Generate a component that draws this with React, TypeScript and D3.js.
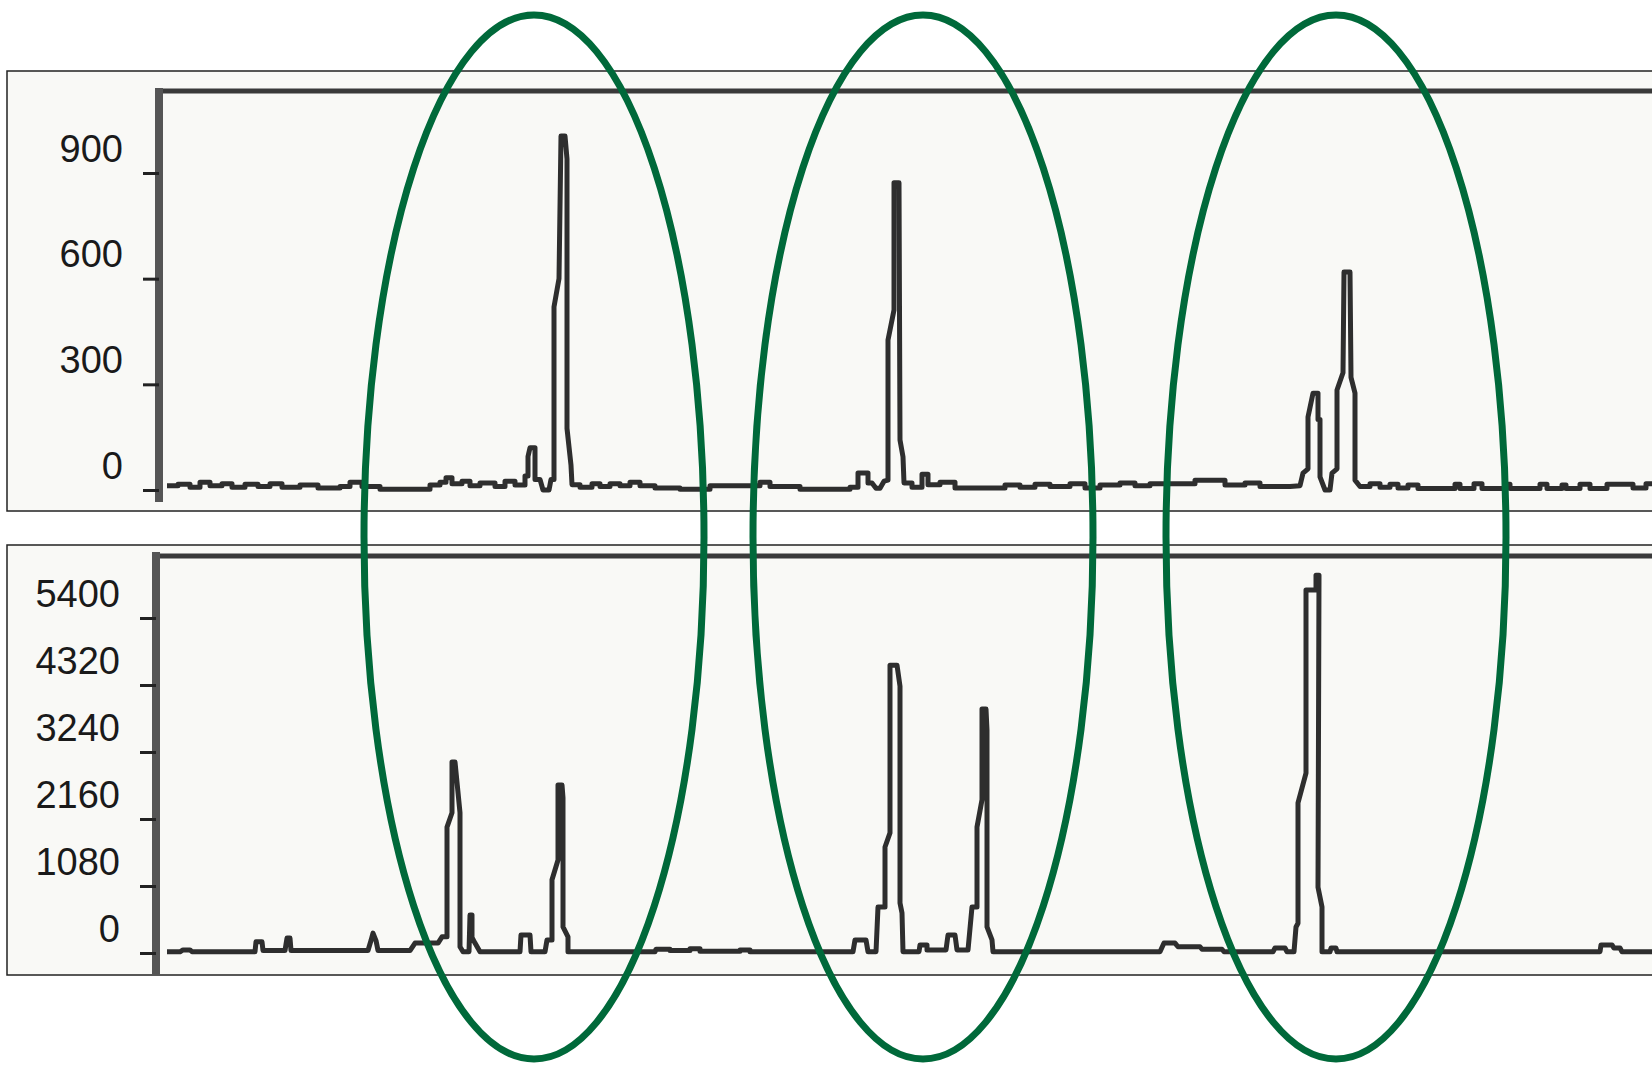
import { useEffect, useRef } from "react";
import * as d3 from "d3";

const WIDTH = 1652;
const HEIGHT = 1065;

// y tick labels of the two electropherogram panels
const topTicks = [0, 300, 600, 900];
const bottomTicks = [0, 1080, 2160, 3240, 4320, 5400];

// traces: [scan, intensity]
const topTrace: [number, number][] = [
  [7, 12], [18, 12], [18, 16], [30, 16], [30, 8], [40, 8], [40, 22], [50, 22], [50, 12],
  [62, 12], [62, 18], [72, 18], [72, 8], [85, 8], [85, 16], [98, 16], [98, 10], [110, 10],
  [110, 18], [122, 18], [122, 8], [140, 8], [140, 14], [158, 14], [158, 6], [180, 6],
  [180, 10], [190, 10], [190, 22], [202, 22], [202, 10], [220, 10], [220, 2], [270, 2],
  [270, 14], [280, 14], [280, 22], [286, 22], [286, 35], [292, 35], [292, 18], [302, 18],
  [302, 25], [310, 25], [310, 12], [320, 12], [320, 20], [335, 20], [335, 10], [345, 10],
  [345, 25], [355, 25], [355, 14], [365, 14], [365, 40], [368, 40], [368, 95], [370, 120],
  [375, 120], [375, 30], [380, 30], [383, 0], [389, 0], [391, 30], [394, 30], [394, 520],
  [399, 600], [401, 1005], [405, 1005], [407, 940], [407, 175], [411, 70], [412, 15],
  [420, 15], [420, 8], [432, 8], [432, 18], [440, 18], [440, 10], [450, 10], [450, 18],
  [460, 18], [460, 12], [470, 12], [470, 22], [480, 22], [480, 12], [495, 12], [495, 6],
  [520, 6], [520, 2], [550, 2], [550, 12], [600, 12], [600, 22], [610, 22], [610, 10],
  [640, 10], [640, 2], [690, 2], [690, 8], [698, 8], [698, 48], [708, 48], [708, 20],
  [712, 20], [716, 5], [720, 5], [724, 25], [728, 28], [728, 426], [734, 511], [734, 872],
  [739, 872], [740, 142], [743, 94], [744, 20], [752, 20], [752, 8], [762, 8], [762, 45],
  [768, 45], [768, 15], [780, 15], [780, 22], [795, 22], [795, 6], [845, 6], [845, 14],
  [860, 14], [860, 8], [875, 8], [875, 16], [890, 16], [890, 10], [910, 10], [910, 18],
  [925, 18], [925, 6], [940, 6], [940, 14], [960, 14], [960, 20], [975, 20], [975, 12],
  [990, 12], [990, 18], [1035, 18], [1035, 28], [1065, 28], [1065, 14], [1085, 14],
  [1085, 20], [1100, 20], [1100, 10], [1130, 10], [1140, 12], [1143, 48], [1148, 60],
  [1148, 207], [1153, 275], [1158, 275], [1158, 200], [1160, 200], [1160, 37], [1165, 0],
  [1170, 0], [1172, 48], [1177, 60], [1177, 284], [1183, 333], [1184, 619], [1190, 619],
  [1191, 320], [1195, 275], [1195, 28], [1200, 10], [1210, 10], [1210, 18], [1220, 18],
  [1220, 8], [1230, 8], [1230, 16], [1238, 16], [1238, 6], [1248, 6], [1248, 14],
  [1258, 14], [1258, 4], [1295, 4], [1295, 16], [1300, 16], [1300, 4], [1314, 4],
  [1314, 18], [1322, 18], [1322, 4], [1345, 4], [1345, 16], [1350, 16], [1350, 4],
  [1380, 4], [1380, 16], [1387, 16], [1387, 4], [1402, 4], [1402, 14], [1406, 14],
  [1406, 4], [1420, 4], [1420, 16], [1430, 16], [1430, 4], [1447, 4], [1447, 16],
  [1473, 16], [1473, 6], [1486, 6], [1486, 18], [1500, 18],
];

const bottomTrace: [number, number][] = [
  [7, 20], [20, 20], [23, 50], [30, 50], [32, 20], [95, 20], [96, 180], [102, 180],
  [103, 40], [125, 40], [127, 240], [130, 240], [131, 40], [208, 40], [211, 200],
  [213, 320], [216, 200], [218, 40], [250, 40], [255, 160], [278, 160], [282, 260],
  [287, 260], [287, 2030], [292, 2260], [292, 3080], [295, 3080], [300, 2260], [300, 100],
  [303, 20], [309, 20], [310, 613], [312, 613], [312, 250], [315, 160], [320, 20],
  [360, 20], [361, 290], [370, 290], [371, 20], [385, 20], [387, 210], [392, 210],
  [392, 1180], [398, 1500], [398, 2708], [402, 2708], [403, 2500], [403, 420], [408, 260],
  [408, 20], [495, 20], [496, 60], [510, 60], [510, 40], [530, 40], [530, 70], [540, 70],
  [540, 30], [580, 30], [580, 50], [590, 50], [590, 20], [693, 20], [695, 210], [706, 210],
  [708, 20], [716, 20], [718, 741], [725, 741], [725, 1709], [730, 1935], [730, 4640],
  [737, 4640], [740, 4300], [740, 806], [742, 645], [743, 20], [759, 20], [760, 130],
  [767, 130], [767, 50], [786, 50], [788, 290], [795, 290], [797, 50], [808, 50],
  [812, 741], [817, 741], [817, 2030], [822, 2470], [822, 3933], [826, 3933], [827, 3590],
  [827, 420], [832, 210], [833, 20], [1000, 20], [1004, 160], [1015, 160], [1018, 100],
  [1040, 100], [1042, 60], [1062, 60], [1064, 20], [1113, 20], [1115, 80], [1125, 80],
  [1127, 20], [1134, 20], [1136, 420], [1138, 480], [1138, 2420], [1146, 2900],
  [1146, 5850], [1156, 5850], [1156, 6090], [1159, 6090], [1158, 1060], [1162, 740],
  [1162, 20], [1170, 20], [1171, 80], [1176, 80], [1177, 20], [1440, 20], [1441, 130],
  [1452, 130], [1454, 80], [1460, 80], [1462, 20], [1500, 20],
];

// scan positions of the circled loci
const highlightCenters = [374, 763, 1176];

const FONT = "'Liberation Sans', Arial, sans-serif";

const xScale = d3.scaleLinear().domain([0, 1500]).range([160, 1660]);

const panels = [
  {
    key: "top",
    outerY: 71,
    outerH: 440,
    axisX: 159,
    frameTop: 91,
    axisTop: 88,
    axisBottom: 502,
    ticks: topTicks,
    data: topTrace,
    y: d3.scaleLinear().domain([0, 900]).range([490, 173]),
  },
  {
    key: "bottom",
    outerY: 545,
    outerH: 430,
    axisX: 156,
    frameTop: 556,
    axisTop: 552,
    axisBottom: 975,
    ticks: bottomTicks,
    data: bottomTrace,
    y: d3.scaleLinear().domain([0, 5400]).range([953, 618]),
  },
];

const YAxis = ({ scale, ticks, x }: any) => {
  const ref = useRef<SVGGElement>(null);
  useEffect(() => {
    const g = d3.select(ref.current);
    g.call(
      d3
        .axisLeft(scale)
        .tickValues(ticks)
        .tickSize(16)
        .tickSizeOuter(0)
        .tickPadding(20)
        .tickFormat(d3.format("d"))
    );
    g.select(".domain").remove();
    g.attr("font-family", null).attr("font-size", null);
    g.selectAll(".tick line").attr("stroke", "#222").attr("stroke-width", 3);
    g.selectAll(".tick text")
      .attr("dy", -12)
      .attr("fill", "#1a1a1a")
      .style("font-family", FONT)
      .style("font-size", "38px");
  }, [scale, ticks]);
  return <g ref={ref} transform={`translate(${x},0)`} />;
};

export default function App() {
  return (
    <svg
      width={WIDTH}
      height={HEIGHT}
      style={{ position: "absolute", left: 0, top: 0, display: "block", background: "#fff" }}
    >
      {panels.map((p) => {
        const line = d3
          .line<[number, number]>()
          .x((d) => xScale(d[0]))
          .y((d) => p.y(d[1]));
        return (
          <g key={p.key}>
            <rect
              x={7}
              y={p.outerY}
              width={1660}
              height={p.outerH}
              fill="#f9f9f6"
              stroke="#222"
              strokeWidth={1.5}
            />
            <line
              x1={p.axisX - 4}
              x2={1660}
              y1={p.frameTop}
              y2={p.frameTop}
              stroke="#3a3a3a"
              strokeWidth={5}
            />
            <rect
              x={p.axisX - 4}
              y={p.axisTop}
              width={8}
              height={p.axisBottom - p.axisTop}
              fill="#555"
            />
            <YAxis scale={p.y} ticks={p.ticks} x={p.axisX} />
            <path
              d={line(p.data) ?? ""}
              fill="none"
              stroke="#2e2e2e"
              strokeWidth={5}
              strokeLinejoin="round"
            />
          </g>
        );
      })}
      {highlightCenters.map((c, i) => (
        <ellipse
          key={i}
          cx={xScale(c)}
          cy={537}
          rx={xScale(c + 170) - xScale(c)}
          ry={522}
          fill="none"
          stroke="#00693a"
          strokeWidth={7}
        />
      ))}
    </svg>
  );
}
